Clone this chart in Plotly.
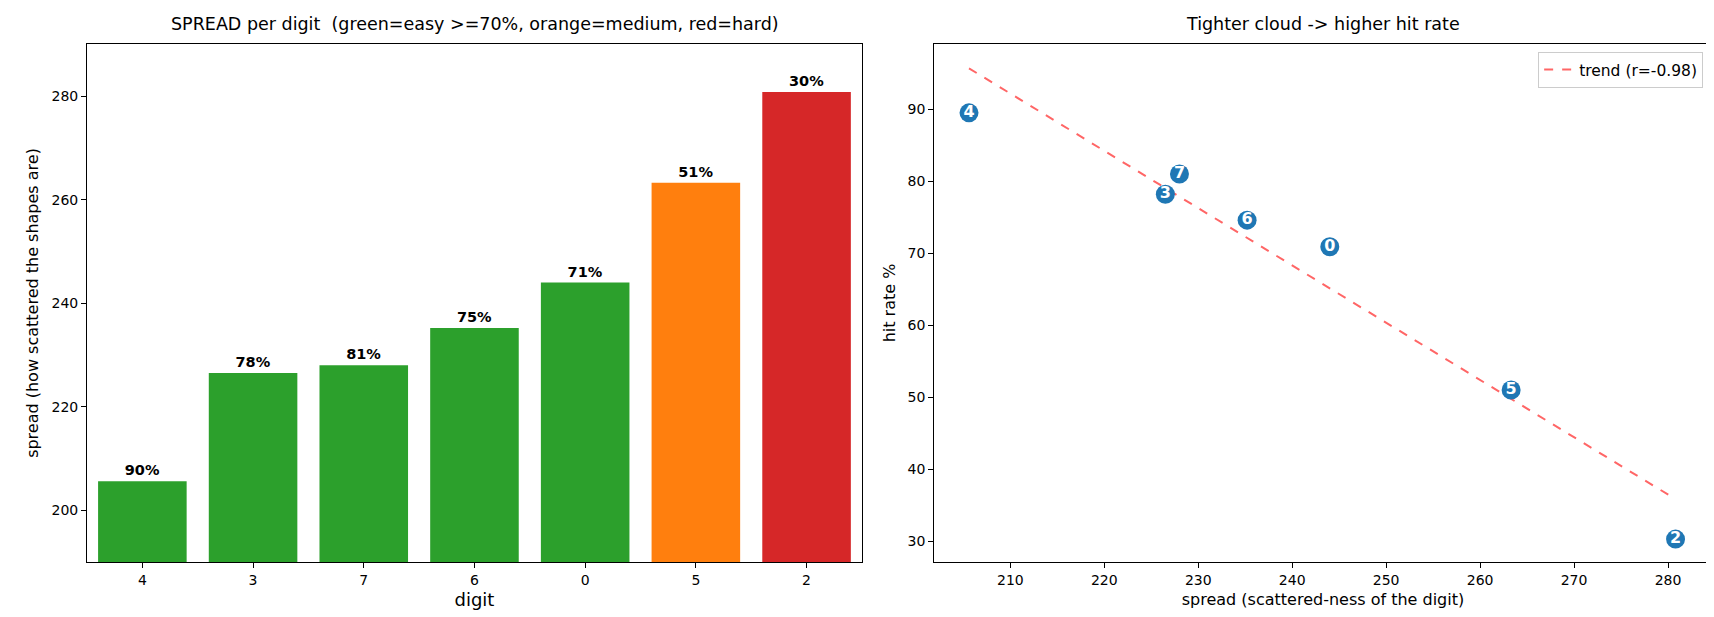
import numpy as np
import plotly.graph_objects as go

# digits sorted by spread (easiest first)
digits = ["4", "3", "7", "6", "0", "5", "2"]
spread = [205.6, 226.5, 228.0, 235.2, 244.0, 263.3, 280.8]
hit_rate = [89.5, 78.2, 81.0, 74.6, 70.9, 51.0, 30.3]

GREEN, ORANGE, RED = "#2ca02c", "#ff7f0e", "#d62728"


def diff_color(h):
    if h >= 70:
        return GREEN
    if h >= 40:
        return ORANGE
    return RED


bar_colors = [diff_color(h) for h in hit_rate]
bar_labels = ["<b>%d%%</b>" % round(h) for h in hit_rate]

# trend line via least squares
slope, icept = np.polyfit(spread, hit_rate, 1)
r = np.corrcoef(spread, hit_rate)[0, 1]
xs = np.array([min(spread), max(spread)])
ys = slope * xs + icept

font = "DejaVu Sans, Arial, sans-serif"
fig = go.Figure()

fig.add_trace(go.Bar(
    x=digits, y=spread, marker=dict(color=bar_colors, line=dict(width=0)),
    width=0.8, text=bar_labels, textposition="outside",
    textfont=dict(size=14.5, color="black"), cliponaxis=False,
    showlegend=False, xaxis="x", yaxis="y",
))

fig.add_trace(go.Scatter(
    x=xs, y=ys, mode="lines", name="trend (r=%.2f)" % r,
    line=dict(color="#ff6666", width=2, dash="dash"),
    xaxis="x2", yaxis="y2",
))
fig.add_trace(go.Scatter(
    x=spread, y=hit_rate, mode="markers+text", text=["<b>%s</b>" % d for d in digits],
    textposition="middle center", textfont=dict(color="white", size=16),
    marker=dict(size=19, color="#1f77b4", line=dict(width=0)),
    showlegend=False, xaxis="x2", yaxis="y2",
))

axis_common = dict(
    showgrid=False, zeroline=False, showline=True, linecolor="black", linewidth=1,
    mirror=True, ticks="outside", ticklen=5, tickcolor="black",
    tickfont=dict(size=14, color="black"),
)

fig.update_layout(
    width=1714, height=617,
    margin=dict(l=0, r=0, t=0, b=0),
    paper_bgcolor="white", plot_bgcolor="white",
    font=dict(family=font, color="black"),
    bargap=0.2,
    xaxis=dict(domain=[0.0461, 0.4982], anchor="y", type="category",
               title=dict(text="digit", font=dict(size=18), standoff=6), **axis_common),
    yaxis=dict(domain=[0.1021, 0.9417], anchor="x", range=[190.0, 290.1],
               tickvals=[200, 220, 240, 260, 280],
               title=dict(text="spread (how scattered the shapes are)", font=dict(size=16), standoff=8),
               **axis_common),
    xaxis2=dict(domain=[0.5404, 0.994], anchor="y2", range=[201.9, 284.65],
                tickvals=[210, 220, 230, 240, 250, 260, 270, 280],
                title=dict(text="spread (scattered-ness of the digit)", font=dict(size=16), standoff=6),
                **axis_common),
    yaxis2=dict(domain=[0.1021, 0.9417], anchor="x2", range=[27.12, 99.07],
                tickvals=[30, 40, 50, 60, 70, 80, 90],
                title=dict(text="hit rate %", font=dict(size=16), standoff=8),
                **axis_common),
    legend=dict(x=0.989, y=0.9287, xanchor="right", yanchor="top", xref="paper", yref="paper",
                bgcolor="rgba(255,255,255,0.8)", bordercolor="#cccccc", borderwidth=1,
                font=dict(size=15.5)),
    annotations=[
        dict(text="SPREAD per digit  (green=easy >=70%, orange=medium, red=hard)",
             x=0.2722, y=0.9546, xref="paper", yref="paper", xanchor="center", yanchor="bottom",
             showarrow=False, font=dict(size=17.5)),
        dict(text="Tighter cloud -> higher hit rate",
             x=0.7672, y=0.9546, xref="paper", yref="paper", xanchor="center", yanchor="bottom",
             showarrow=False, font=dict(size=17.5)),
    ],
)

fig.write_html("out.html")
